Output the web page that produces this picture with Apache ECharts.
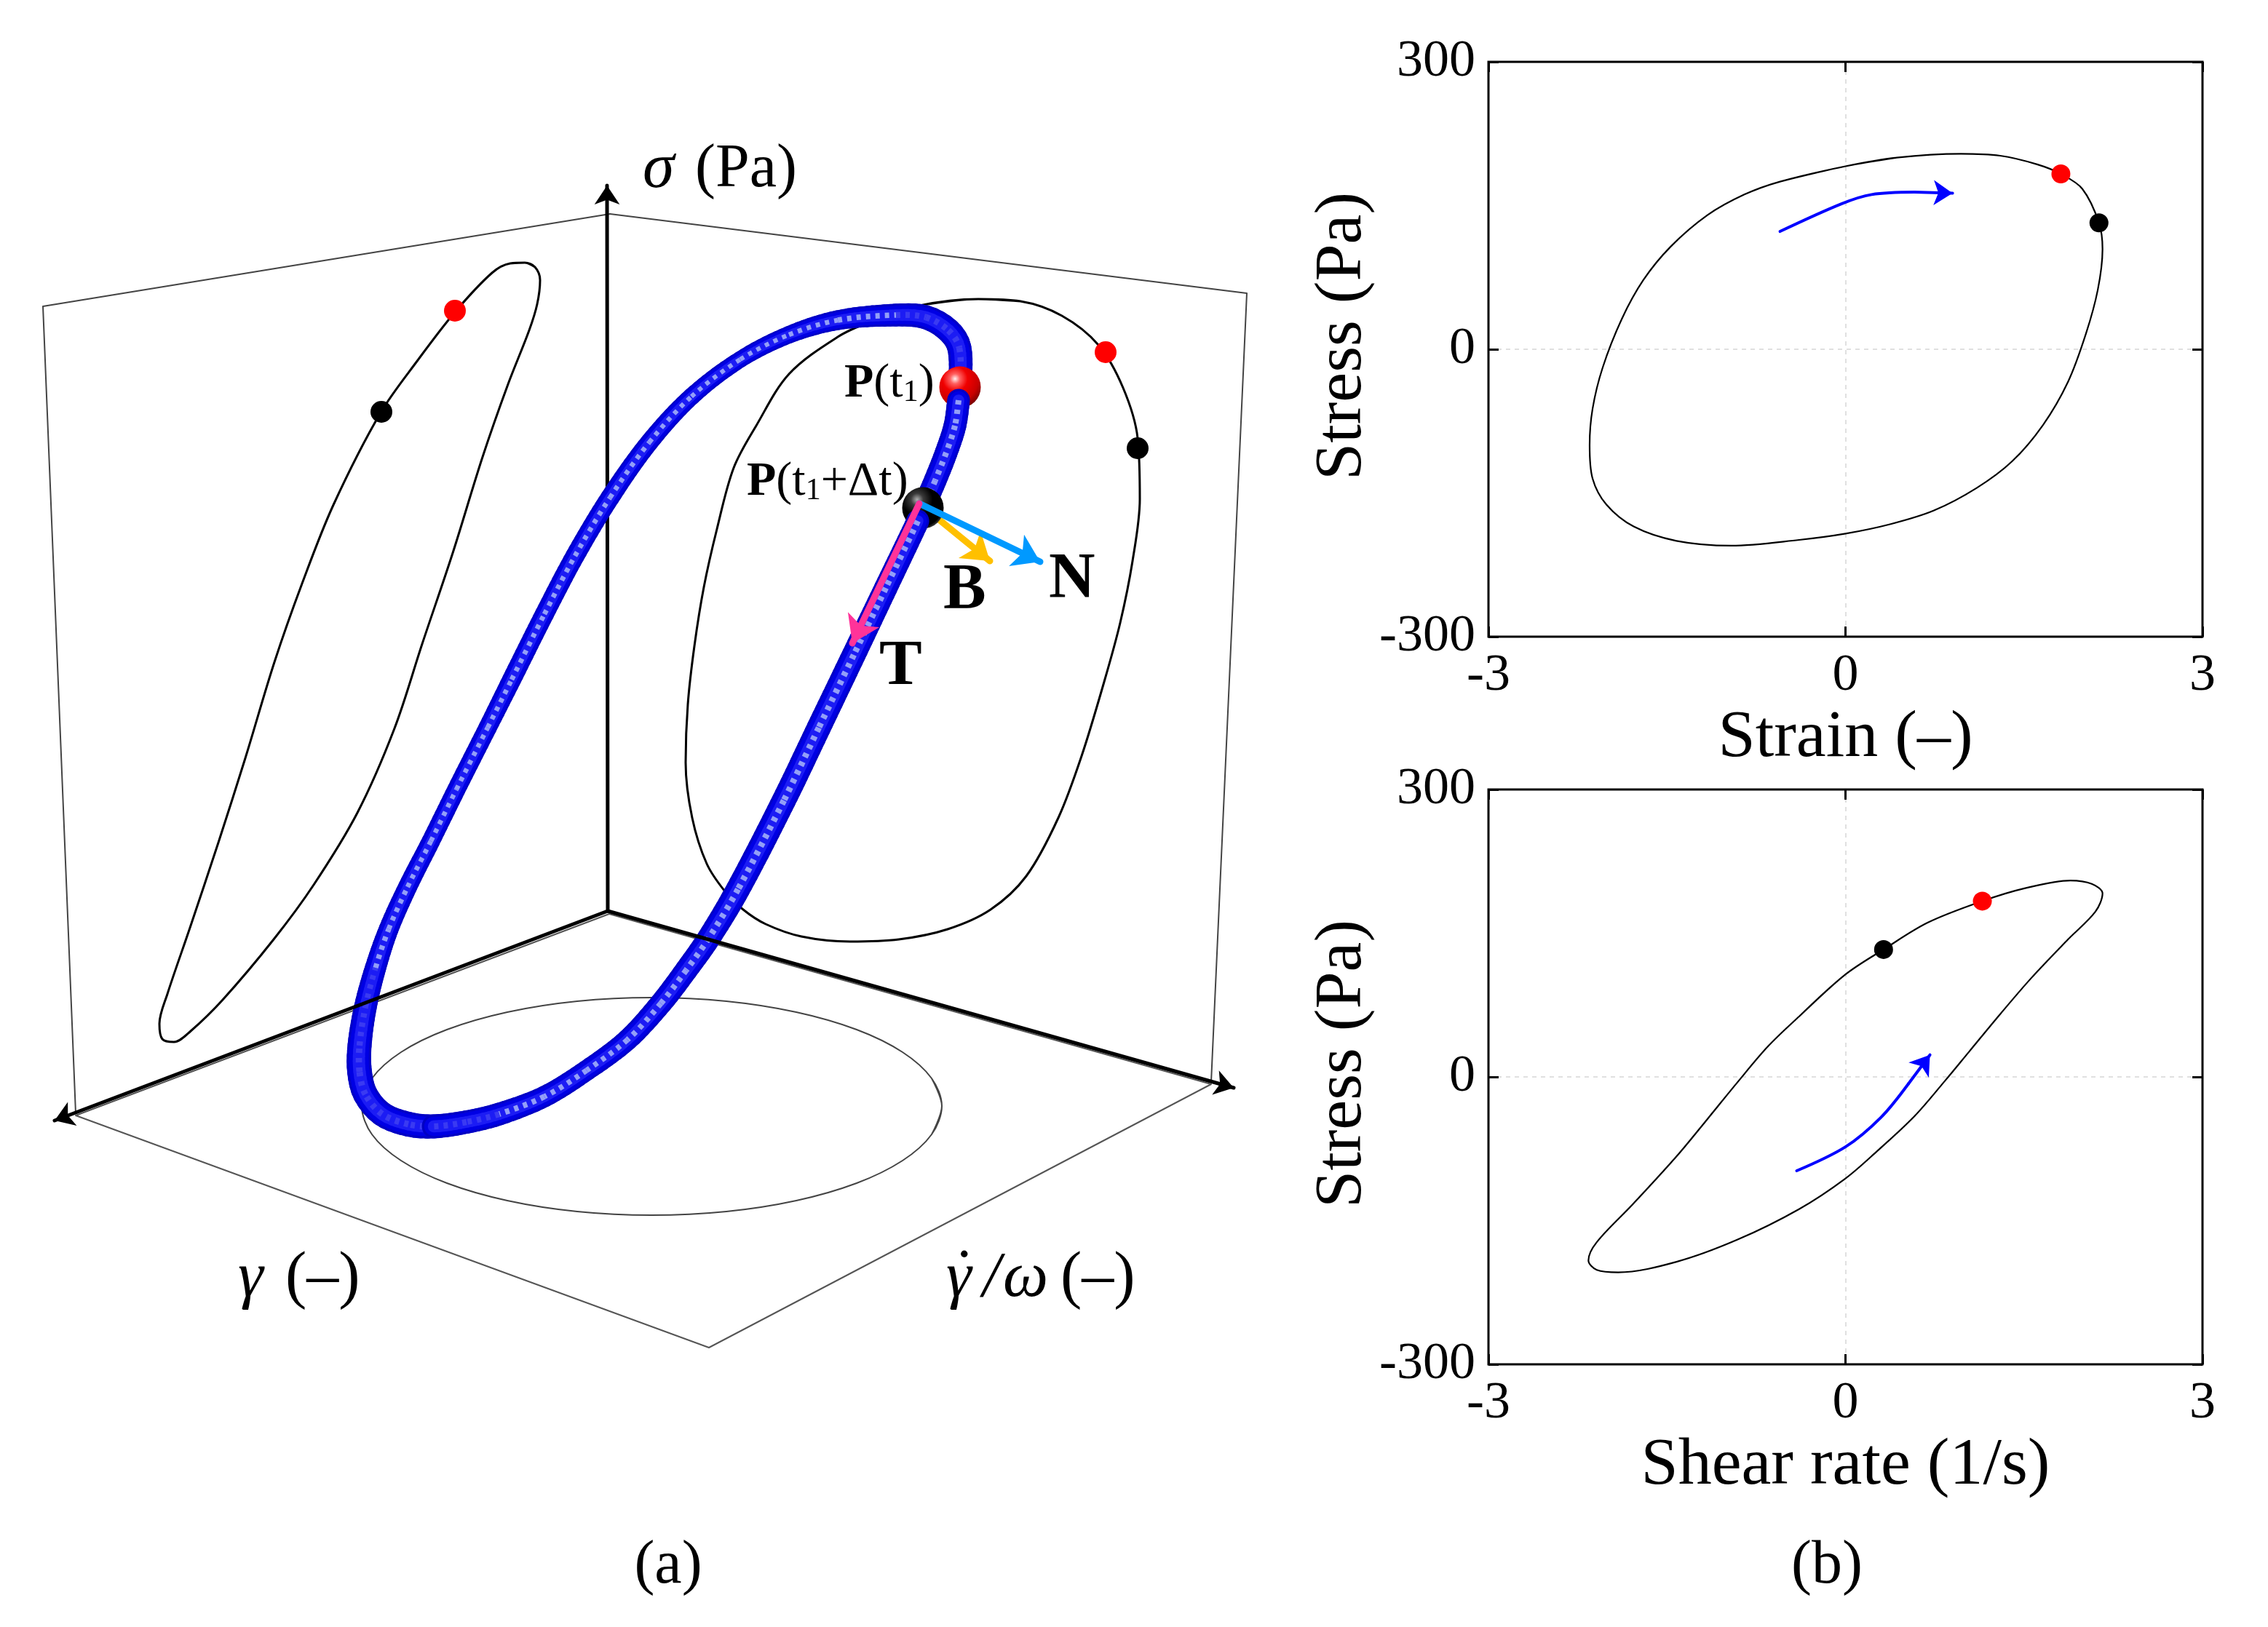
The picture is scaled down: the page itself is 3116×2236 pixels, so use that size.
<!DOCTYPE html>
<html lang="en">
<head>
<meta charset="utf-8">
<title>Lissajous curves</title>
<script src="https://cdn.jsdelivr.net/npm/echarts@6/dist/echarts.min.js"></script>
<style>html,body{margin:0;background:#fff}</style>
</head>
<body>
<div id="main" style="width:3116px;height:2236px;"></div>
<script>
// ---- panel (b)
const strainTicks = [-3, 0, 3];
const rateTicks = [-3, 0, 3];
const stressTicks = [-300, 0, 300];

const strainX = [0, 0.43, 0.97, 1.30, 1.61, 1.81, 1.99, 2.13, 2.16, 2.12, 2.02, 1.87, 1.66, 1.40, 1.10, 0.74, 0.38, 0, -0.39, -0.96, -1.42, -1.78, -2.01, -2.125, -2.15, -2.125, -2.04, -1.88, -1.70, -1.47, -1.16, -0.85, -0.55, 0];
const strainY = [191, 200, 204, 202, 193, 183, 167.5, 132, 104.5, 62, 16, -34, -79, -117, -145, -168.5, -182.5, -192.5, -199, -205, -200, -185, -162, -135, -100, -62, -19, 31.5, 72, 107, 140, 161.5, 175, 191];
const strainArrowX = [-0.55, -0.03, 0.22, 0.58, 0.90];
const strainArrowY = [123, 152, 161.5, 164, 163];
const strainRed = [1.81, 183];
const strainBlack = [2.13, 132];

const rateX = [0, 0.32, 0.69, 1.15, 1.51, 1.89, 2.07, 2.16, 2.10, 1.87, 1.56, 1.30, 1.04, 0.84, 0.58, 0.27, 0, -0.39, -0.91, -1.42, -1.91, -2.09, -2.16, -2.09, -1.78, -1.42, -1.16, -0.91, -0.65, -0.39, 0];
const rateY = [107, 133, 161, 183.5, 197, 205, 201.5, 191.5, 172.5, 143.5, 103, 65.5, 26.5, -3.5, -41, -77, -106, -138, -170, -193, -204, -201.5, -191.5, -172.5, -132, -83, -44, -6, 32, 63, 107];
const rateArrowX = [-0.41, 0, 0.30, 0.53, 0.71];
const rateArrowY = [-98, -73, -42, -7, 23];
const rateRed = [1.15, 183.5];
const rateBlack = [0.32, 133];

// ---- panel (a): projected 3D picture, in picture units
const axisSigmaX = [835, 834];
const axisSigmaY = [1252, 255];
const axisGammaX = [835, 75];
const axisGammaY = [1252, 1540];
const axisRateX = [835, 1695];
const axisRateY = [1252, 1495];

const wallLeftX = [104, 59, 838];
const wallLeftY = [1530, 421, 294];
const wallRightX = [838, 1713, 1664];
const wallRightY = [294, 403, 1487];
const floorX = [104, 974, 1664, 837, 104];
const floorY = [1533, 1852, 1490, 1256, 1533];

const leftLoopX = [721, 735, 742, 738, 727, 698, 663, 622, 580, 542, 491, 431, 376, 306, 262, 239, 223, 219, 230, 261, 300, 337, 377, 415, 458, 523, 574, 625, 676, 701, 721];
const leftLoopY = [361, 367, 385, 418, 454, 528, 628, 760, 885, 1001, 1117, 1216, 1291, 1374, 1417, 1432, 1428, 1407, 1366, 1275, 1158, 1042, 910, 802, 694, 567, 495, 429, 375, 362, 361];
const leftRed = [625, 427];
const leftBlack = [524, 566];

const rightLoopX = [1344, 1402, 1459, 1509, 1543, 1563, 1566, 1556, 1539, 1517, 1486, 1454, 1410, 1361, 1302, 1235, 1168, 1101, 1052, 1021, 996, 971, 951, 942, 945, 954, 967, 985, 1008, 1039, 1084, 1151, 1196, 1263, 1344];
const rightLoopY = [411, 414, 434, 474, 533, 602, 686, 771, 856, 937, 1039, 1124, 1204, 1250, 1277, 1291, 1294, 1287, 1270, 1250, 1225, 1187, 1124, 1048, 968, 888, 807, 727, 643, 585, 514, 463, 442, 420, 411];
const rightRed = [1519, 484];
const rightBlack = [1563, 616];

const floorLoopX = [1294, 1280, 1240, 1177, 1094, 998, 895, 793, 697, 614, 551, 511, 497, 511, 551, 614, 697, 793, 895, 998, 1094, 1177, 1240, 1280, 1294];
const floorLoopY = [1520, 1559, 1595, 1626, 1650, 1665, 1670, 1665, 1650, 1626, 1595, 1559, 1520, 1482, 1446, 1415, 1391, 1376, 1371, 1376, 1391, 1415, 1446, 1482, 1520];

// the tube: starts just under the red bead, runs through the black bead, round the bottom and back
const tubeX = [1317, 1312, 1300, 1285, 1269, 1261, 1217, 1173, 1125, 1077, 1014, 974, 943, 908, 862, 806, 748, 686, 641, 596, 561, 525, 502, 494, 494, 502, 516, 534, 560, 592, 627, 670, 703, 748, 790, 838, 892, 950, 1017, 1084, 1151, 1231, 1272, 1303, 1318, 1319];
const tubeY = [550, 585, 622, 660, 697, 716, 808, 900, 1000, 1100, 1222, 1289, 1333, 1379, 1429, 1471, 1507, 1531, 1542, 1548, 1545, 1531, 1504, 1473, 1437, 1384, 1330, 1277, 1219, 1156, 1085, 1000, 934, 844, 764, 684, 608, 545, 494, 460, 440, 433, 436, 454, 478, 532];
// nearness to the viewer, 0 far .. 1 near (estimated from the tube's apparent girth)
const tubeNear = [0.8, 0.8, 0.8, 0.8, 0.8, 0.8, 0.85, 0.9, 0.93, 0.93, 0.93, 0.85, 0.8, 0.75, 0.65, 0.6, 0.65, 0.8, 0.85, 0.93, 1, 1, 1, 1, 0.93, 0.8, 0.65, 0.5, 0.43, 0.36, 0.36, 0.36, 0.43, 0.43, 0.43, 0.43, 0.36, 0.28, 0.2, 0.28, 0.5, 0.8, 0.93, 1, 0.93, 0.85];

const redBead = [1319, 532];
const blackBead = [1268, 698];
const frameStart = [1263, 692];
const tangentEnd = [1171, 884];
const normalEnd = [1429, 772];
const binormalEnd = [1360, 771];

const SERIF = '"Liberation Serif", "DejaVu Serif", serif';
const zip = (xs, ys) => xs.map((x, i) => [x, ys[i]]);
// closed loops overlap by one point each way so the join keeps its tangent
const loop = (xs, ys) => { const p = zip(xs, ys); return [p[p.length - 2], ...p, p[1]]; };

function curve(grid, xs, ys, color, width, z, extra) {
    return Object.assign({
        type: 'line', xAxisIndex: grid, yAxisIndex: grid, data: zip(xs, ys),
        showSymbol: false, symbol: 'none', smooth: 0.33, silent: true, z: z, clip: false,
        lineStyle: { color: color, width: width, cap: 'round', join: 'round' }
    }, extra || {});
}

function closed(grid, xs, ys, color, width, z) {
    return curve(grid, xs, ys, color, width, z, { data: loop(xs, ys) });
}

function straight(grid, xs, ys, color, width, z) {
    return curve(grid, xs, ys, color, width, z, { smooth: false });
}

function dot(grid, p, color, size, z) {
    return {
        type: 'scatter', xAxisIndex: grid, yAxisIndex: grid, data: [p], symbolSize: size,
        itemStyle: { color: color, opacity: 1 }, silent: true, z: z, clip: false
    };
}

function arrow(grid, from, to, color, width, head, z) {
    return {
        type: 'lines', coordinateSystem: 'cartesian2d', xAxisIndex: grid, yAxisIndex: grid,
        data: [{ coords: [from, to] }], symbol: ['none', 'arrow'], symbolSize: head, silent: true, z: z,
        lineStyle: { color: color, width: width, opacity: 1, cap: 'round' }
    };
}

// one layer of the tube from index a to b, width follows tubeNear
function tubeLayer(a, b, scale, color, z, dash, quietColor) {
    const n = tubeX.length;
    const idx = [];
    for (let i = a; i < b; i++) idx.push([tubeX[i], tubeY[i], i]);
    return {
        type: 'custom', xAxisIndex: 0, yAxisIndex: 0, data: idx, encode: { x: 0, y: 1 }, silent: true, z: z, clip: false,
        renderItem: function (params, api) {
            const i = api.value(2);
            const at = (k) => api.coord([tubeX[(k + n) % n], tubeY[(k + n) % n]]);
            const p0 = at(i - 1), p1 = at(i), p2 = at(i + 1), p3 = at(i + 2);
            const len = (a, b) => Math.hypot(a[0] - b[0], a[1] - b[1]);
            const l0 = len(p0, p1), l1 = len(p1, p2), l2 = len(p2, p3);
            const r1 = l1 / (l0 + l1) / 3, r2 = l1 / (l1 + l2) / 3;
            const c1 = [p1[0] + (p2[0] - p0[0]) * r1, p1[1] + (p2[1] - p0[1]) * r1];
            const c2 = [p2[0] - (p3[0] - p1[0]) * r2, p2[1] - (p3[1] - p1[1]) * r2];
            const near = (t) => tubeNear[i] + (tubeNear[(i + 1) % n] - tubeNear[i]) * t;
            const width = (t) => (20 + 14 * near(t)) * scale;
            // ribs sink into the body where the tube bends towards the viewer
            const quiet = (i >= 17 && i <= 25) || i >= 41;
            if (dash) {
                return {
                    type: 'bezierCurve',
                    shape: { x1: p1[0], y1: p1[1], x2: p2[0], y2: p2[1], cpx1: c1[0], cpy1: c1[1], cpx2: c2[0], cpy2: c2[1] },
                    style: { fill: null, stroke: quiet ? quietColor : color, lineWidth: width(0.5), lineCap: 'butt', lineDash: dash }
                };
            }
            // solid layers are cut into short pieces so the girth changes gradually
            const point = (t) => {
                const u = 1 - t;
                return [0, 1].map((d) => u * u * u * p1[d] + 3 * u * u * t * c1[d] + 3 * u * t * t * c2[d] + t * t * t * p2[d]);
            };
            const pieces = [];
            const steps = Math.max(4, Math.round(l1 / 8));
            for (let k = 0; k < steps; k++) {
                pieces.push({
                    type: 'polyline',
                    shape: { points: [point(k / steps), point((k + 1) / steps)] },
                    style: { fill: null, stroke: color, lineWidth: width((k + 0.5) / steps), lineCap: 'round' }
                });
            }
            return { type: 'group', children: pieces };
        }
    };
}

function tubePart(a, b, z) {
    return [
        tubeLayer(a, b, 1, '#0000c4', z),
        tubeLayer(a, b, 0.8, '#0000e4', z + 0.1),
        tubeLayer(a, b, 0.5, '#1c1cf4', z + 0.2),
        tubeLayer(a, b, 0.26, '#939ff8', z + 0.3, [6, 7], '#3a3af2')
    ];
}

const redBall = {
    type: 'radial', x: 0.38, y: 0.3, r: 0.75,
    colorStops: [{ offset: 0, color: '#fff2f2' }, { offset: 0.16, color: '#ff6060' }, { offset: 0.4, color: '#f00000' }, { offset: 0.75, color: '#c80000' }, { offset: 1, color: '#700000' }]
};
const blackBall = {
    type: 'radial', x: 0.36, y: 0.3, r: 0.75,
    colorStops: [{ offset: 0, color: '#b0b0b0' }, { offset: 0.2, color: '#3a3a3a' }, { offset: 0.5, color: '#000' }, { offset: 0.9, color: '#000' }, { offset: 1, color: '#444' }]
};

const FIRST_BLACK = 4, BOTTOM = 19;

const series = [
    // panel (a)
    straight(0, wallLeftX, wallLeftY, '#444', 2, 2),
    straight(0, wallRightX, wallRightY, '#444', 2, 2),
    straight(0, floorX, floorY, '#555', 2, 2),
    closed(0, floorLoopX, floorLoopY, '#444', 2, 3),
    closed(0, leftLoopX, leftLoopY, '#000', 3, 4),
    closed(0, rightLoopX, rightLoopY, '#000', 3, 4),
    dot(0, leftRed, '#ff0000', 30, 5),
    dot(0, leftBlack, '#000', 30, 5),
    dot(0, rightRed, '#ff0000', 30, 5),
    dot(0, rightBlack, '#000', 30, 5),
    arrow(0, [axisSigmaX[0], axisSigmaY[0]], [axisSigmaX[1], axisSigmaY[1]], '#000', 5, [26, 26], 6),
    ...tubePart(BOTTOM, tubeX.length - 1, 20),
    dot(0, redBead, redBall, 57, 21),
    ...tubePart(0, FIRST_BLACK, 22),
    arrow(0, frameStart, binormalEnd, '#ffc000', 9, [40, 36], 22.8),
    dot(0, blackBead, blackBall, 57, 23),
    ...tubePart(FIRST_BLACK + 1, BOTTOM, 24),
    arrow(0, [axisGammaX[0], axisGammaY[0]], [axisGammaX[1], axisGammaY[1]], '#000', 5, [26, 26], 30),
    arrow(0, [axisRateX[0], axisRateY[0]], [axisRateX[1], axisRateY[1]], '#000', 5, [26, 26], 30),
    arrow(0, frameStart, normalEnd, '#0099ff', 9, [40, 36], 31),
    arrow(0, frameStart, tangentEnd, '#ff3399', 9, [40, 36], 32),
    // panel (b), top
    closed(1, strainX, strainY, '#000', 2.2, 5),
    curve(1, strainArrowX.slice(0, 4), strainArrowY.slice(0, 4), '#0000ff', 4, 6),
    arrow(1, [strainArrowX[3], strainArrowY[3]], [strainArrowX[4], strainArrowY[4]], '#0000ff', 4, [28, 26], 6),
    dot(1, strainRed, '#ff0000', 26, 7),
    dot(1, strainBlack, '#000', 26, 7),
    // panel (b), bottom
    closed(2, rateX, rateY, '#000', 2.2, 5),
    curve(2, rateArrowX.slice(0, 4), rateArrowY.slice(0, 4), '#0000ff', 4, 6),
    arrow(2, [rateArrowX[3], rateArrowY[3]], [rateArrowX[4], rateArrowY[4]], '#0000ff', 4, [28, 26], 6),
    dot(2, rateRed, '#ff0000', 26, 7),
    dot(2, rateBlack, '#000', 26, 7)
];

function valueAxis(ticks, grid, pos, opts) {
    return Object.assign({
        type: 'value', gridIndex: grid, position: pos,
        min: ticks[0], max: ticks[2], interval: ticks[1] - ticks[0],
        axisLine: { show: false, onZero: false },
        axisTick: { show: true, inside: true, length: 14, lineStyle: { color: '#000', width: 3 } },
        axisLabel: { show: false },
        splitLine: { show: false }
    }, opts || {});
}

function mainAxis(ticks, grid, pos, name, gap, pad) {
    return valueAxis(ticks, grid, pos, {
        name: name, nameLocation: 'middle', nameGap: gap,
        nameTextStyle: { fontFamily: SERIF, fontSize: 92, color: '#000', padding: pad || 0 },
        axisLabel: { show: true, fontFamily: SERIF, fontSize: 72, color: '#000', margin: 18, hideOverlap: false },
        splitLine: { show: true, showMinLine: false, showMaxLine: false, lineStyle: { color: '#e0e0e0', width: 2, type: [6, 6] } }
    });
}

const pictureX = { type: 'value', gridIndex: 0, min: 0, max: 3116, show: false };
const pictureY = { type: 'value', gridIndex: 0, min: 0, max: 2236, inverse: true, show: false };

function label(text, x, y, size, extra) {
    return {
        type: 'text', x: x, y: y, z: 100, silent: true,
        style: Object.assign({ text: text, fontFamily: SERIF, fontSize: size, fill: '#000', align: 'left', verticalAlign: 'middle' }, extra || {})
    };
}

const richSub = {
    b: { fontFamily: SERIF, fontSize: 66, fontWeight: 'bold', fill: '#000', lineHeight: 66 },
    r: { fontFamily: SERIF, fontSize: 66, fill: '#000', lineHeight: 66 },
    s: { fontFamily: SERIF, fontSize: 42, fill: '#000', lineHeight: 66, verticalAlign: 'bottom', padding: [16, 0, 0, 0] }
};
const ITALIC = { fontStyle: 'italic' };

const chart = echarts.init(document.getElementById('main'));
chart.setOption({
    animation: false,
    backgroundColor: '#fff',
    grid: [
        { left: 0, top: 0, width: 3116, height: 2236, show: false },
        { left: 2045, top: 85, width: 981, height: 790, show: true, borderColor: '#000', borderWidth: 3, backgroundColor: 'transparent' },
        { left: 2045, top: 1085, width: 981, height: 790, show: true, borderColor: '#000', borderWidth: 3, backgroundColor: 'transparent' }
    ],
    xAxis: [
        pictureX,
        mainAxis(strainTicks, 1, 'bottom', 'Strain (–)', 94),
        mainAxis(rateTicks, 2, 'bottom', 'Shear rate (1/s)', 94),
        valueAxis(strainTicks, 1, 'top'),
        valueAxis(rateTicks, 2, 'top')
    ],
    yAxis: [
        pictureY,
        mainAxis(stressTicks, 1, 'left', 'Stress (Pa)', 150, [0, 0, 0, 36]),
        mainAxis(stressTicks, 2, 'left', 'Stress (Pa)', 150, [0, 0, 0, 36]),
        valueAxis(stressTicks, 1, 'right'),
        valueAxis(stressTicks, 2, 'right')
    ],
    series: series,
    graphic: [
        label('σ', 883, 234, 88, ITALIC),
        label('(Pa)', 955, 234, 84),
        label('γ', 327, 1758, 88, ITALIC),
        label('(–)', 392, 1758, 88),
        label('γ', 1300, 1758, 88, ITALIC),
        label('˙', 1310, 1755, 88),
        label('/', 1350, 1758, 88, ITALIC),
        label('ω', 1378, 1758, 88, ITALIC),
        label('(–)', 1457, 1758, 88),
        label('(a)', 918, 2153, 84, { align: 'center' }),
        label('(b)', 2510, 2153, 84, { align: 'center' }),
        label('{b|P}{r|(t}{s|1}{r|)}', 1160, 528, 66, { rich: richSub }),
        label('{b|P}{r|(t}{s|1}{r|+Δt)}', 1026, 663, 66, { rich: richSub }),
        label('B', 1296, 812, 88, { fontWeight: 'bold' }),
        label('N', 1441, 797, 88, { fontWeight: 'bold' }),
        label('T', 1208, 917, 88, { fontWeight: 'bold' })
    ]
});
</script>
</body>
</html>
